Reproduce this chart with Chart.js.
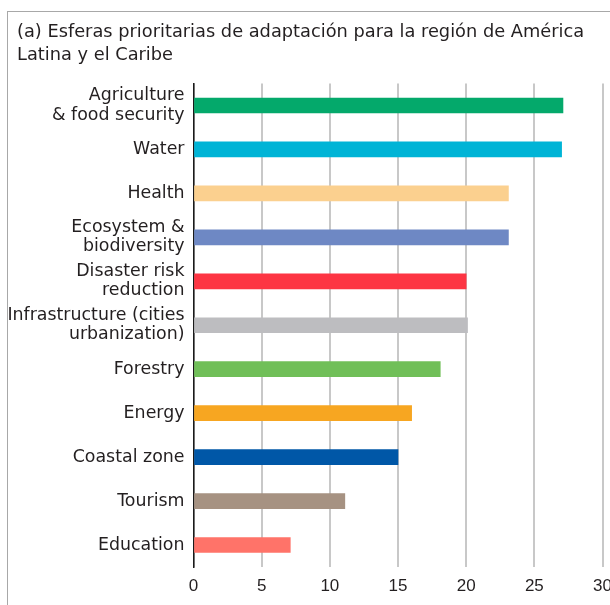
<!DOCTYPE html>
<html>
<head>
<meta charset="utf-8">
<script src="https://cdn.jsdelivr.net/npm/chart.js@4"></script>
<style>
  html, body { margin: 0; padding: 0; background: #ffffff; }
  #wrap { position: relative; width: 610px; height: 605px; overflow: hidden; background: #ffffff; }
  #frame { position: absolute; left: 7px; top: 11px; width: 700px; height: 700px;
           border-left: 1.5px solid #a8a8a8; border-top: 1.5px solid #a8a8a8; box-sizing: border-box; }
  #c { position: absolute; left: 0; top: 0; }
</style>
</head>
<body>
<div id="wrap">
  <div id="frame"></div>
  <canvas id="c" width="610" height="605"></canvas>
</div>
<script>
const titleLines = ["(a) Esferas prioritarias de adaptación para la región de América", "Latina y el Caribe"];
const categories = [
  ["Agriculture", "& food security"],
  "Water",
  "Health",
  ["Ecosystem &", "biodiversity"],
  ["Disaster risk", "reduction"],
  ["Infrastructure (cities", "urbanization)"],
  "Forestry",
  "Energy",
  "Coastal zone",
  "Tourism",
  "Education"
];
const values = [27.1, 27.0, 23.1, 23.1, 20.0, 20.1, 18.1, 16.0, 15.0, 11.1, 7.1];
const barColors = ["#04a96b", "#00b4d6", "#fbd08f", "#6e88c4", "#fd3543", "#bdbdc0", "#70bf58", "#f7a621", "#0057a7", "#a69282", "#ff7369"];
const xTicks = [0, 5, 10, 15, 20, 25, 30];

const FONT = "'DejaVu Sans', sans-serif";
const TICKFONT = "'Liberation Sans', Arial, sans-serif";
const TEXT = "#231f20";

const shiftTitle = {
  id: 'shiftTitle',
  afterLayout(chart) {
    if (chart.titleBlock) { chart.titleBlock.left = 17; }
  }
};

new Chart(document.getElementById('c'), {
  type: 'bar',
  data: {
    labels: categories,
    datasets: [{
      data: values,
      backgroundColor: barColors,
      borderWidth: 0,
      barThickness: 15
    }]
  },
  plugins: [shiftTitle],
  options: {
    indexAxis: 'y',
    responsive: false,
    animation: false,
    devicePixelRatio: 1,
    layout: { padding: { left: 0, right: 7.5, top: 0, bottom: 0 } },
    plugins: {
      legend: { display: false },
      tooltip: { enabled: false },
      title: {
        display: true,
        text: titleLines,
        align: 'start',
        color: TEXT,
        font: { family: FONT, size: 17.8, weight: 'normal', lineHeight: '23px' },
        padding: { top: 20.5, bottom: 17 }
      }
    },
    scales: {
      x: {
        type: 'linear',
        min: 0,
        max: 30,
        afterBuildTicks: (s) => { s.ticks = xTicks.map(v => ({ value: v })); },
        afterFit: (s) => { s.height = 38; s.paddingLeft = 0; s.paddingRight = 0; },
        grid: { color: '#c8c8c8', lineWidth: 2, drawTicks: false },
        border: { display: false },
        ticks: { color: TEXT, font: { family: TICKFONT, size: 17 }, padding: 9, maxRotation: 0 }
      },
      y: {
        afterFit: (s) => { s.width = 193.5; s.paddingTop = 0; s.paddingBottom = 0; },
        grid: { display: false, drawTicks: false },
        border: { display: true, color: '#1a1a1a', width: 1.5 },
        ticks: { color: TEXT, font: { family: FONT, size: 17.4, lineHeight: 1.1 }, padding: 9, autoSkip: false }
      }
    }
  }
});
</script>
</body>
</html>
